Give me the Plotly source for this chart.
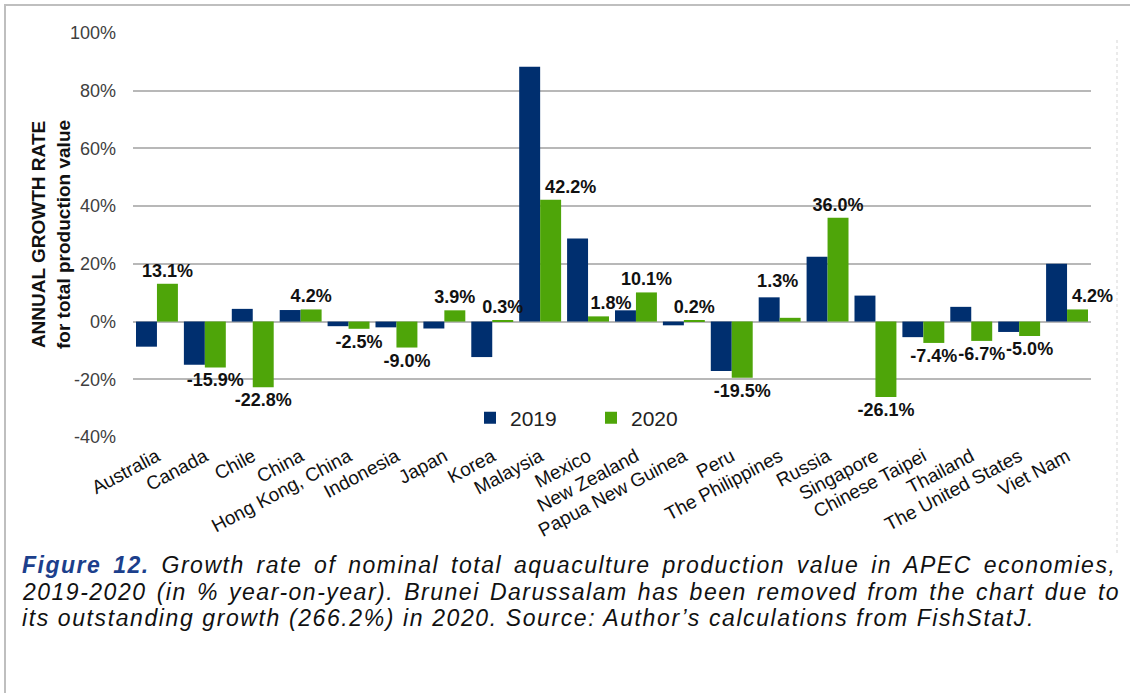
import plotly.graph_objects as go

economies = ["Australia", "Canada", "Chile", "China", "Hong Kong, China", "Indonesia",
             "Japan", "Korea", "Malaysia", "Mexico", "New Zealand", "Papua New Guinea",
             "Peru", "The Philippines", "Russia", "Singapore", "Chinese Taipei",
             "Thailand", "The United States", "Viet Nam"]
growth_2019 = [-8.7, -15.0, 4.4, 4.0, -1.6, -2.0, -2.4, -12.3, 88.3, 28.8, 3.9, -1.3,
               -17.1, 8.4, 22.5, 9.0, -5.4, 5.1, -3.6, 20.0]
growth_2020 = [13.1, -15.9, -22.8, 4.2, -2.5, -9.0, 3.9, 0.3, 42.2, 1.8, 10.1, 0.2,
               -19.5, 1.3, 36.0, -26.1, -7.4, -6.7, -5.0, 4.2]
y_ticks = [-40, -20, 0, 20, 40, 60, 80, 100]

FONT = "Arial, Liberation Sans, sans-serif"
NAVY = "#002F6F"
GREEN = "#4EA509"

L, R, T, B = 133, 39, 33, 256
W, H = 1130, 693
PW, PH = W - L - R, H - T - B

# label nudges (style only): (leading nbsp, trailing nbsp, extra line below)
label_nudge = {"Malaysia": (8, 0, False), "Mexico": (5, 0, False),
               "Viet Nam": (6, 0, False), "The Philippines": (0, 5, True)}


def px(x):
    return (x - L) / PW


def py(y):
    return (H - B - y) / PH


labels_2020 = []
for name, v in zip(economies, growth_2020):
    lead, trail, raise_ = label_nudge.get(name, (0, 0, False))
    s = "\u00a0" * lead + f"{v:.1f}%" + "\u00a0" * trail
    if raise_:
        s += "<br>\u00a0"
    labels_2020.append(s)

fig = go.Figure()
fig.add_trace(go.Bar(x=economies, y=growth_2019, name="2019",
                     marker=dict(color=NAVY, line=dict(width=0))))
fig.add_trace(go.Bar(x=economies, y=growth_2020, name="2020",
                     marker=dict(color=GREEN, line=dict(width=0)),
                     text=labels_2020, texttemplate="%{text}", textposition="outside",
                     textfont=dict(family=FONT, size=18, color="#111111", weight="bold"),
                     cliponaxis=False, constraintext="none"))

caption_lines = [
    "Growth rate of nominal total aquaculture production value in APEC economies,",
    "2019-2020 (in % year-on-year). Brunei Darussalam has been removed from the chart due to",
    "its outstanding growth (266.2%) in 2020. Source: Author\u2019s calculations from FishStatJ.",
]
word_spacing = [4.0, 2.3, 0.0]

annotations = [
    dict(text="<b>ANNUAL GROWTH RATE<br>for total production value</b>",
         xref="paper", yref="paper", x=px(51), y=0.5, textangle=-90,
         showarrow=False, font=dict(family=FONT, size=19, color="#111111"),
         xanchor="center", yanchor="middle"),
]
cap_y = [565, 592, 618]
for i, line in enumerate(caption_lines):
    style = f"letter-spacing:{1.5 if i < 2 else 1.6}px;word-spacing:{word_spacing[i]}px"
    prefix = "<span style='color:#1C3F8C'><b>Figure 12.</b></span> " if i == 0 else ""
    annotations.append(dict(
        text=f"<span style='{style}'>{prefix}{line}</span>",
        xref="paper", yref="paper", x=px(20), y=py(cap_y[i]),
        xanchor="left", yanchor="middle", showarrow=False, align="left",
        font=dict(family=FONT, size=23, color="#111111", style="italic")))

shapes = [
    dict(type="rect", xref="paper", yref="paper", x0=px(5), x1=px(1140), y0=py(5), y1=py(705),
         line=dict(color="#BFBFBF", width=2), fillcolor="rgba(0,0,0,0)", layer="below"),
    dict(type="line", xref="paper", yref="paper", x0=px(1117), x1=px(1117), y0=py(40), y1=py(555),
         line=dict(color="#D5D5D5", width=1, dash="dot")),
]

fig.update_layout(
    width=W, height=H,
    margin=dict(l=L, r=R, t=T, b=B, autoexpand=False),
    paper_bgcolor="white", plot_bgcolor="white",
    barmode="group", bargap=0.125, bargroupgap=0,
    font=dict(family=FONT, size=18, color="#333333"),
    showlegend=True,
    legend=dict(orientation="h", x=px(470), y=py(418), xanchor="left", yanchor="middle",
                font=dict(family=FONT, size=21, color="#222222"),
                bgcolor="rgba(0,0,0,0)", entrywidth=76, itemwidth=30,
                traceorder="normal"),
    annotations=annotations,
    shapes=shapes,
)
fig.update_yaxes(range=[-40, 100], tickvals=y_ticks,
                 ticktext=[f"{v}%" for v in y_ticks],
                 showgrid=True, gridcolor="#B8B8B8", gridwidth=1.5,
                 zeroline=True, zerolinecolor="#B8B8B8", zerolinewidth=1.5,
                 showline=False, ticks="", ticklabelstandoff=16,
                 tickfont=dict(family=FONT, size=18, color="#404040"))
fig.update_xaxes(tickangle=-28, showgrid=False, showline=False, ticks="",
                 ticklabelstandoff=4,
                 tickfont=dict(family=FONT, size=19, color="#111111"))

fig.write_html("out.html", config={"displayModeBar": False},
               post_script="document.body.style.margin='0px';")
